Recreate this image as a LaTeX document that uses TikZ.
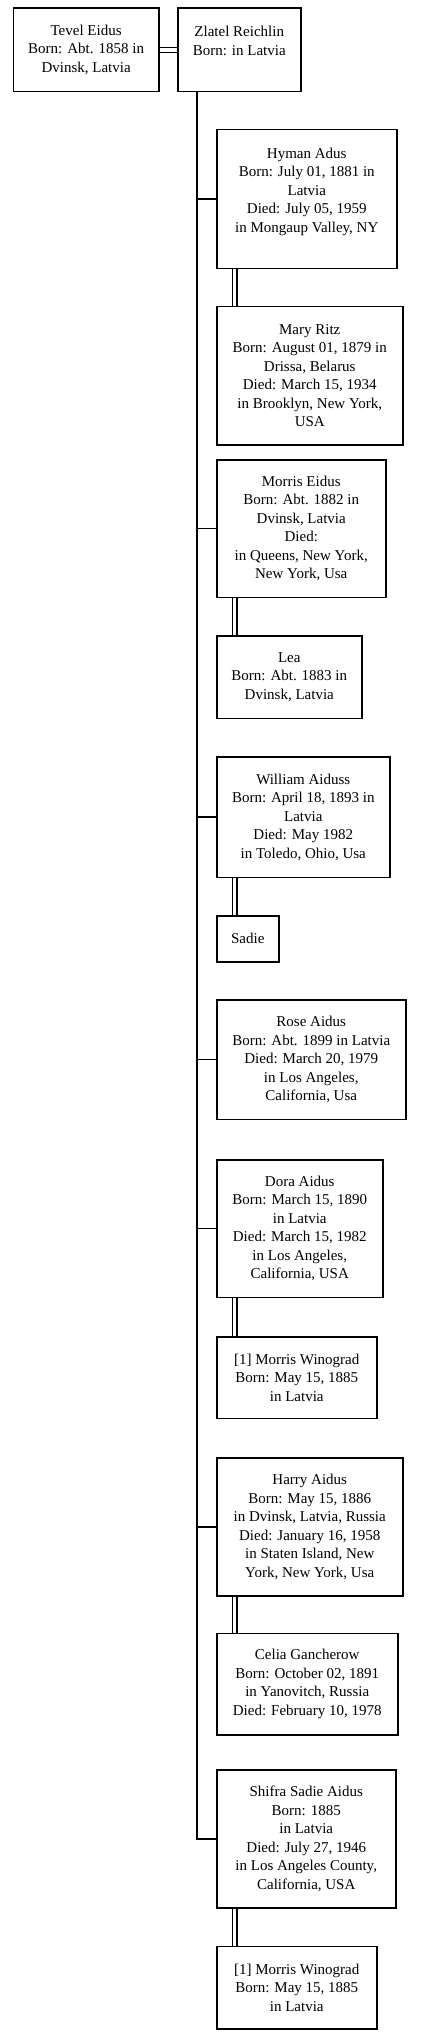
\documentclass[tikz,border=0pt]{standalone}
\usepackage{fontspec}
\setmainfont{Liberation Serif}
\usetikzlibrary{calc}
\usetikzlibrary{backgrounds}

\begin{document}
\begin{tikzpicture}[x=1pt,y=-1pt,
  person/.style={draw,line width=1.5pt,fill=white,anchor=north west,inner sep=0pt,align=center,font=\fontsize{15}{18.5}\selectfont},
  link/.style={line width=1.5pt},
  wed/.style={double,double distance=3.4pt,line width=1.3pt}]
\useasboundingbox (0,0) rectangle (429,2033);

% parents
\node[person,minimum width=145.3pt,minimum height=83.7pt] (tevel) at (12.7,7.3) {Tevel Eidus\\Born: Abt. 1858 in\\Dvinsk, Latvia};
\node[person,minimum width=123pt,minimum height=83.7pt] (zlatel) at (177,7.3) {Zlatel Reichlin\\Born: in Latvia\\~};
\coordinate (trunk) at ($(zlatel.south west)+(20,0)$);

% children and spouses
\node[person,minimum width=180pt,minimum height=139pt] (hyman) at (216,129) {Hyman Adus\\Born: July 01, 1881 in\\Latvia\\Died: July 05, 1959\\in Mongaup Valley, NY\\~};
\node[person,minimum width=186pt,minimum height=138.3pt] (mary) at (216,305.7) {Mary Ritz\\Born: August 01, 1879 in\\Drissa, Belarus\\Died: March 15, 1934\\in Brooklyn, New York,\\USA};
\node[person,minimum width=169pt,minimum height=137.7pt] (morris) at (216,459) {Morris Eidus\\Born: Abt. 1882 in\\Dvinsk, Latvia\\Died:\\in Queens, New York,\\New York, Usa};
\node[person,minimum width=145pt,minimum height=82.7pt] (lea) at (216,635) {Lea\\Born: Abt. 1883 in\\Dvinsk, Latvia};
\node[person,minimum width=173pt,minimum height=120.7pt] (william) at (216,756) {William Aiduss\\Born: April 18, 1893 in\\Latvia\\Died: May 1982\\in Toledo, Ohio, Usa};
\node[person,minimum width=62pt,minimum height=46pt] (sadie) at (216,915) {Sadie};
\node[person,minimum width=189pt,minimum height=119.7pt] (rose) at (216,999) {Rose Aidus\\Born: Abt. 1899 in Latvia\\Died: March 20, 1979\\in Los Angeles,\\California, Usa};
\node[person,minimum width=166pt,minimum height=137.7pt] (dora) at (216,1159) {Dora Aidus\\Born: March 15, 1890\\in Latvia\\Died: March 15, 1982\\in Los Angeles,\\California, USA};
\node[person,minimum width=160pt,minimum height=81.7pt] (winograda) at (216,1336) {[1] Morris Winograd\\Born: May 15, 1885\\in Latvia};
\node[person,minimum width=186pt,minimum height=138pt] (harry) at (216,1457) {Harry Aidus\\Born: May 15, 1886\\in Dvinsk, Latvia, Russia\\Died: January 16, 1958\\in Staten Island, New\\York, New York, Usa};
\node[person,minimum width=181pt,minimum height=101.3pt] (celia) at (216,1632.7) {Celia Gancherow\\Born: October 02, 1891\\in Yanovitch, Russia\\Died: February 10, 1978};
\node[person,minimum width=179pt,minimum height=138pt] (shifra) at (216,1769) {Shifra Sadie Aidus\\Born: 1885\\in Latvia\\Died: July 27, 1946\\in Los Angeles County,\\California, USA};
\node[person,minimum width=160pt,minimum height=82.3pt] (winogradb) at (216,1945.7) {[1] Morris Winograd\\Born: May 15, 1885\\in Latvia};

\begin{scope}[on background layer]
  % marriages
  \draw[wed] (tevel.east) -- (tevel.east -| zlatel.west);
  \draw[wed] ($(hyman.south west)+(18.7,0)$) -- ($(mary.north west)+(18.7,0)$);
  \draw[wed] ($(morris.south west)+(18.7,0)$) -- ($(lea.north west)+(18.7,0)$);
  \draw[wed] ($(william.south west)+(18.7,0)$) -- ($(sadie.north west)+(18.7,0)$);
  \draw[wed] ($(dora.south west)+(18.7,0)$) -- ($(winograda.north west)+(18.7,0)$);
  \draw[wed] ($(harry.south west)+(18.7,0)$) -- ($(celia.north west)+(18.7,0)$);
  \draw[wed] ($(shifra.south west)+(18.7,0)$) -- ($(winogradb.north west)+(18.7,0)$);
  % descent
  \draw[link] (trunk) |- (shifra.west);
  \draw[link] (hyman.west) -- (hyman.west -| trunk);
  \draw[link] (morris.west) -- (morris.west -| trunk);
  \draw[link] (william.west) -- (william.west -| trunk);
  \draw[link] (rose.west) -- (rose.west -| trunk);
  \draw[link] (dora.west) -- (dora.west -| trunk);
  \draw[link] (harry.west) -- (harry.west -| trunk);
\end{scope}
\end{tikzpicture}
\end{document}
